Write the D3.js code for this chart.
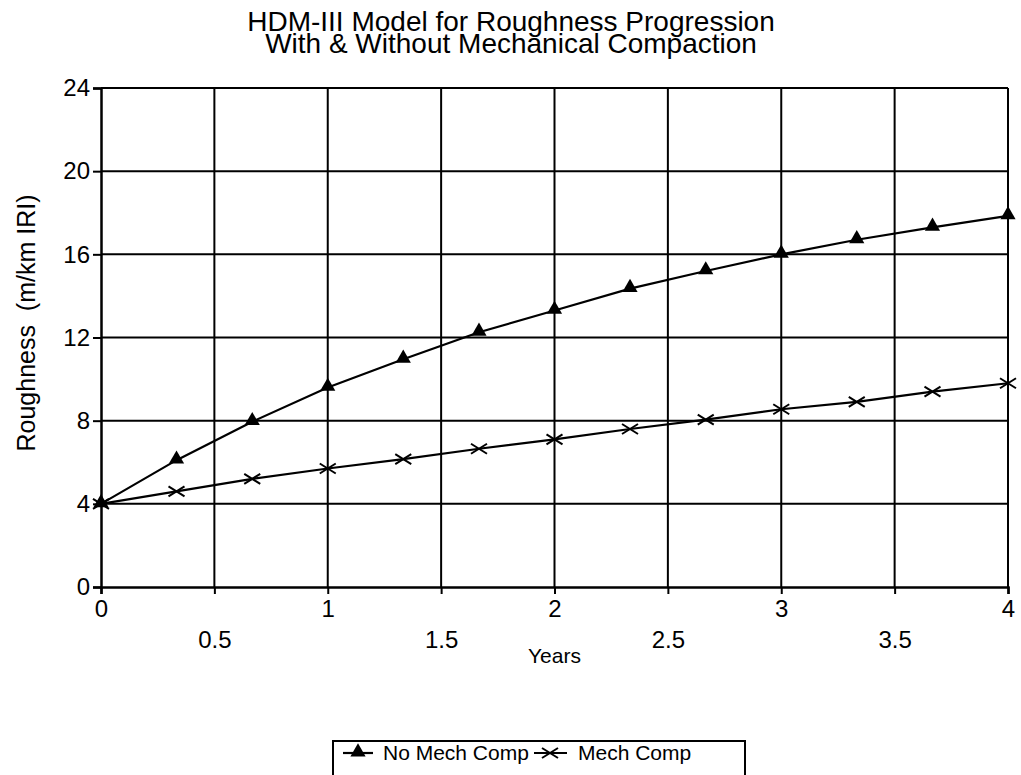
<!DOCTYPE html>
<html lang="en">
<head>
<script src="https://d3js.org/d3.v7.min.js"></script>
<style>
  body { margin: 0; background: #fff; }
  text { font-family: "Liberation Sans", Arial, sans-serif; fill: #000; }
</style>
</head>
<body>
<div id="chart"></div>
<script>
// data
const years = [0, 0.333, 0.667, 1, 1.333, 1.667, 2, 2.333, 2.667, 3, 3.333, 3.667, 4];
const noMechComp = [4, 6.1, 7.95, 9.6, 10.95, 12.25, 13.3, 14.35, 15.2, 16.0, 16.7, 17.3, 17.85];
const mechComp = [4, 4.6, 5.2, 5.7, 6.15, 6.65, 7.1, 7.6, 8.05, 8.55, 8.9, 9.4, 9.8];
const yTicks = [0, 4, 8, 12, 16, 20, 24];
const xMajor = [0, 1, 2, 3, 4];
const xMinor = [0.5, 1.5, 2.5, 3.5];
const titleLines = ["HDM-III Model for Roughness Progression", "With & Without Mechanical Compaction"];
const seriesNames = ["No Mech Comp", "Mech Comp"];

const W = 1021, H = 775;
const margin = {top: 88, left: 101, right: 13, bottom: 188};
const width = W - margin.left - margin.right,
      height = H - margin.top - margin.bottom;

const svg = d3.select("#chart").append("svg")
  .attr("width", W).attr("height", H);

// title
svg.append("g").selectAll("text").data(titleLines).enter().append("text")
  .attr("x", 511).attr("y", (d, i) => 31 + i * 22)
  .attr("text-anchor", "middle")
  .style("font-size", "28px")
  .text(d => d);

const g = svg.append("g").attr("transform", "translate(" + margin.left + "," + margin.top + ")");

const x = d3.scaleLinear().domain([0, 4]).range([0, width]);
const y = d3.scaleLinear().domain([0, 24]).range([height, 0]);

// grid
g.append("g").selectAll("line").data(yTicks.filter(d => d > 0)).enter().append("line")
  .attr("x1", 0).attr("x2", width)
  .attr("y1", d => y(d)).attr("y2", d => y(d))
  .attr("stroke", "#000").attr("stroke-width", 2);
g.append("g").selectAll("line").data(xMajor.concat(xMinor).filter(d => d > 0)).enter().append("line")
  .attr("x1", d => x(d)).attr("x2", d => x(d))
  .attr("y1", 0).attr("y2", height)
  .attr("stroke", "#000").attr("stroke-width", 2);

// axes
const yAxis = g.append("g")
  .call(d3.axisLeft(y).tickValues(yTicks).tickSize(8).tickPadding(3));
yAxis.selectAll("text").style("font-size", "24px");
yAxis.select(".domain").attr("stroke-width", 2.5);
yAxis.selectAll(".tick line").attr("stroke-width", 2);

const xAxis = g.append("g").attr("transform", "translate(0," + height + ")")
  .call(d3.axisBottom(x).tickValues(xMajor).tickSize(7).tickPadding(6).tickFormat(d3.format("d")));
xAxis.selectAll("text").style("font-size", "24px");
xAxis.select(".domain").attr("stroke-width", 2.5);
xAxis.selectAll(".tick line").attr("stroke-width", 2);

const xAxis2 = g.append("g").attr("transform", "translate(0," + height + ")")
  .call(d3.axisBottom(x).tickValues(xMinor).tickSize(7).tickPadding(37).tickFormat(d3.format(".1f")));
xAxis2.select(".domain").remove();
xAxis2.selectAll("text").style("font-size", "24px");
xAxis2.selectAll(".tick line").attr("stroke-width", 2);

// axis titles
svg.append("text")
  .attr("x", margin.left + x(2)).attr("y", 663)
  .attr("text-anchor", "middle").style("font-size", "21px")
  .text("Years");
svg.append("text")
  .attr("transform", "translate(35,323) rotate(-90)")
  .attr("text-anchor", "middle").style("font-size", "25px")
  .style("white-space", "pre")
  .text("Roughness  (m/km IRI)");

// series
const line = d3.line().x((d, i) => x(years[i])).y(d => y(d));
const tri = d3.symbol().type(d3.symbolTriangle).size(100);
const cross = "M-8,-5L8,5M-8,5L8,-5";

g.append("path").datum(noMechComp).attr("d", line)
  .attr("fill", "none").attr("stroke", "#000").attr("stroke-width", 2.2);
g.append("path").datum(mechComp).attr("d", line)
  .attr("fill", "none").attr("stroke", "#000").attr("stroke-width", 2.2);

g.append("g").selectAll("path").data(noMechComp).enter().append("path")
  .attr("transform", (d, i) => "translate(" + x(years[i]) + "," + (y(d) - 1) + ")")
  .attr("d", tri).attr("fill", "#000");
g.append("g").selectAll("path").data(mechComp).enter().append("path")
  .attr("transform", (d, i) => "translate(" + x(years[i]) + "," + y(d) + ")")
  .attr("d", cross).attr("fill", "none").attr("stroke", "#000").attr("stroke-width", 2);

// legend
const lg = svg.append("g");
lg.append("rect").attr("x", 333).attr("y", 741).attr("width", 412).attr("height", 60)
  .attr("fill", "none").attr("stroke", "#000").attr("stroke-width", 2);
lg.append("line").attr("x1", 343).attr("x2", 373).attr("y1", 753).attr("y2", 753)
  .attr("stroke", "#000").attr("stroke-width", 2.2);
lg.append("path").attr("transform", "translate(358,752)").attr("d", tri).attr("fill", "#000");
lg.append("text").attr("x", 383).attr("y", 760).style("font-size", "21px").text(seriesNames[0]);
lg.append("line").attr("x1", 534).attr("x2", 567).attr("y1", 753).attr("y2", 753)
  .attr("stroke", "#000").attr("stroke-width", 2.2);
lg.append("path").attr("transform", "translate(550,753)").attr("d", cross)
  .attr("fill", "none").attr("stroke", "#000").attr("stroke-width", 2);
lg.append("text").attr("x", 578).attr("y", 760).style("font-size", "21px").text(seriesNames[1]);
</script>
</body>
</html>
